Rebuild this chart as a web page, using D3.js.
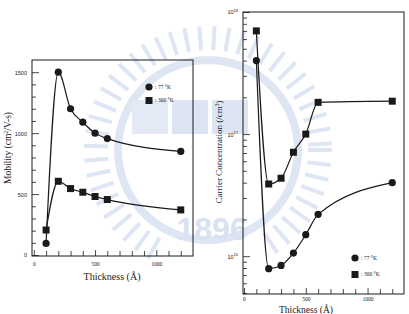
<!DOCTYPE html>
<html>
<head>
<meta charset="utf-8">
<script src="https://cdn.jsdelivr.net/npm/d3@7"></script>
<style>
  html, body { margin: 0; padding: 0; background: #fff; }
  svg { display: block; font-family: "Liberation Serif", "DejaVu Serif", serif; }
</style>
</head>
<body>
<div id="chart"></div>
<script>
// data
const thickness = [100, 200, 300, 400, 500, 600, 1200];
const mobility77 = [95, 1500, 1200, 1090, 1000, 955, 850];
const mobility300 = [205, 605, 545, 515, 480, 455, 370];
const carrier77 = [4.0e17, 7.9e15, 8.4e15, 1.06e16, 1.5e16, 2.2e16, 4.0e16];
const carrier300 = [7.0e17, 3.9e16, 4.35e16, 7.1e16, 1.0e17, 1.82e17, 1.86e17];
const legendLabels = [": 77 \u00B0K", ": 300 \u00B0K"];
const mobilityTicks = [0, 500, 1000, 1500];
const thicknessTicks = [0, 500, 1000];

const W = 409, H = 314;
const ink = "#1a1a1a";

const svg = d3.select("#chart").append("svg")
    .attr("width", W)
    .attr("height", H)
    .attr("viewBox", [0, 0, W, H]);

// faint watermark behind the plots
const wm = svg.append("g").attr("stroke", "none");
const cx = 208, cy = 150;
d3.range(0, 360, 7).forEach(a => {
    if (a > 62 && a < 118) return; // gap at the bottom where "1896" sits
    const r = Math.PI * a / 180;
    wm.append("line")
        .attr("x1", cx + 100 * Math.cos(r)).attr("y1", cy + 100 * Math.sin(r))
        .attr("x2", cx + 124 * Math.cos(r)).attr("y2", cy + 124 * Math.sin(r))
        .attr("stroke", "#dfe6f3").attr("stroke-width", 4);
});
wm.append("circle").attr("cx", cx).attr("cy", cy).attr("r", 90)
    .attr("fill", "none").attr("stroke", "#dfe6f3").attr("stroke-width", 8);
wm.append("rect").attr("x", 132).attr("y", 100).attr("width", 36).attr("height", 34).attr("fill", "#e4eaf5");
wm.append("rect").attr("x", 172).attr("y", 100).attr("width", 36).attr("height", 34).attr("fill", "#dde5f3");
wm.append("rect").attr("x", 212).attr("y", 100).attr("width", 36).attr("height", 34).attr("fill", "#dde5f3");
wm.append("text").attr("x", 212).attr("y", 240).attr("text-anchor", "middle")
    .attr("font-family", "Liberation Sans, Arial, sans-serif")
    .attr("font-weight", "bold").attr("font-size", 32).attr("fill", "#d9e2f1")
    .text("1896");

function frameAndTicks(g, x, y, xMinor, yMinor, yMajor, yLabelFn, xPad) {
    const [x0, x1] = x.range();
    const [y0, y1] = y.range();
    g.append("rect")
        .attr("x", x0).attr("y", y1)
        .attr("width", x1 - x0).attr("height", y0 - y1)
        .attr("fill", "none").attr("stroke", ink).attr("stroke-width", 1);

    // bottom ticks, pointing inward
    g.append("g")
        .attr("transform", `translate(0,${y0})`)
        .call(d3.axisBottom(x).tickValues(xMinor).tickSize(-5).tickFormat(""))
        .call(s => s.select(".domain").remove());
    g.append("g")
        .attr("transform", `translate(0,${y0})`)
        .call(d3.axisBottom(x).tickValues(thicknessTicks).tickSizeInner(-6).tickSizeOuter(0).tickPadding(xPad).tickFormat(d3.format("d")))
        .call(s => s.select(".domain").remove())
        .call(s => s.selectAll("text").attr("font-size", 5.5).attr("font-family", "Liberation Serif"));

    // left ticks
    g.append("g")
        .attr("transform", `translate(${x0},0)`)
        .call(d3.axisLeft(y).tickValues(yMinor).tickSize(-4).tickFormat(""))
        .call(s => s.select(".domain").remove());
    const ya = g.append("g")
        .attr("transform", `translate(${x0},0)`)
        .call(d3.axisLeft(y).tickValues(yMajor).tickSizeInner(-7).tickSizeOuter(0).tickPadding(5).tickFormat(""))
        .call(s => s.select(".domain").remove());
    ya.selectAll(".tick").append("text")
        .attr("x", -5).attr("dy", "0.35em")
        .attr("text-anchor", "end")
        .attr("fill", ink).attr("font-size", 5.5)
        .each(function (d) { yLabelFn(d3.select(this), d); });
    g.selectAll(".tick line").attr("stroke", ink).attr("stroke-width", 0.8);
    g.selectAll(".tick text").attr("fill", ink);
}

function drawSeries(g, x, y, vals, marker) {
    const pts = thickness.map((t, i) => [x(t), y(vals[i])]);
    g.append("path")
        .attr("d", d3.line().curve(d3.curveMonotoneX)(pts))
        .attr("fill", "none").attr("stroke", ink).attr("stroke-width", 1.2);
    pts.forEach(p => drawMarker(g, p[0], p[1], marker));
}

function drawMarker(g, px, py, marker) {
    if (marker === "circle") {
        g.append("circle").attr("cx", px).attr("cy", py).attr("r", 3.6).attr("fill", ink);
    } else {
        g.append("rect").attr("x", px - 3.5).attr("y", py - 3.5)
            .attr("width", 7).attr("height", 7).attr("fill", ink);
    }
}

function legend(g, lx, ly, gap) {
    ["circle", "square"].forEach((m, i) => {
        drawMarker(g, lx, ly + i * gap, m);
        g.append("text")
            .attr("x", lx + 6).attr("y", ly + i * gap).attr("dy", "0.35em")
            .attr("font-size", 5.5).attr("fill", ink)
            .text(legendLabels[i]);
    });
}

// ---- left panel: mobility
{
    const x = d3.scaleLinear([-15, 1300], [32, 193]);
    const y = d3.scaleLinear([0, 1600], [255, 60]);
    const g = svg.append("g");
    const xMinor = d3.range(100, 1300, 100).filter(v => v % 500 !== 0);
    const yMinor = d3.range(100, 1600, 100).filter(v => v % 500 !== 0);
    // frame bottom slightly below 0
    const yFrame = d3.scaleLinear([-8, 1600], [256, 60]);
    frameAndTicks(g, x, yFrame, xMinor, yMinor, mobilityTicks, (t, d) => t.text(d), 6);

    drawSeries(g, x, y, mobility77, "circle");
    drawSeries(g, x, y, mobility300, "square");
    legend(g, 149, 87, 13.5);

    g.append("text")
        .attr("x", 112).attr("y", 280)
        .attr("text-anchor", "middle").attr("font-size", 10).attr("fill", ink)
        .text("Thickness (\u00C5)");
    const yl = g.append("text")
        .attr("transform", "translate(11,148) rotate(-90)")
        .attr("text-anchor", "middle").attr("font-size", 9.5).attr("fill", ink);
    yl.append("tspan").text("Mobility (cm");
    yl.append("tspan").attr("font-size", 6).attr("dy", -3.5).text("2");
    yl.append("tspan").attr("dy", 3.5).text("/V-s)");
}

// ---- right panel: carrier concentration
{
    const x = d3.scaleLinear([-8, 1295], [243, 404]);
    const y = d3.scaleLog([4.9e15, 1e18], [294, 12]);
    const g = svg.append("g");
    const xMinor = d3.range(100, 1300, 100).filter(v => v % 500 !== 0);
    const yMinor = [];
    [1e15, 1e16, 1e17].forEach(dec => d3.range(2, 10).forEach(k => {
        const v = k * dec;
        if (v > 4.9e15 && v < 1e18) yMinor.push(v);
    }));
    const yMajor = [1e16, 1e17, 1e18];
    frameAndTicks(g, x, y, xMinor, yMinor, yMajor, (t, d) => {
        t.append("tspan").text("10");
        t.append("tspan").attr("dy", -2.5).attr("font-size", 4).text(Math.round(Math.log10(d)));
    }, 3);

    drawSeries(g, x, y, carrier77, "circle");
    drawSeries(g, x, y, carrier300, "square");
    legend(g, 355, 258, 16.5);

    g.append("text")
        .attr("x", 306).attr("y", 313)
        .attr("text-anchor", "middle").attr("font-size", 9.5).attr("fill", ink)
        .text("Thickness (\u00C5)");
    const yl = g.append("text")
        .attr("transform", "translate(222,152) rotate(-90)")
        .attr("text-anchor", "middle").attr("font-size", 9).attr("fill", ink);
    yl.append("tspan").text("Carrier Concentration (/cm");
    yl.append("tspan").attr("font-size", 5.5).attr("dy", -3.5).text("3");
    yl.append("tspan").attr("dy", 3.5).text(")");
}
</script>
</body>
</html>
